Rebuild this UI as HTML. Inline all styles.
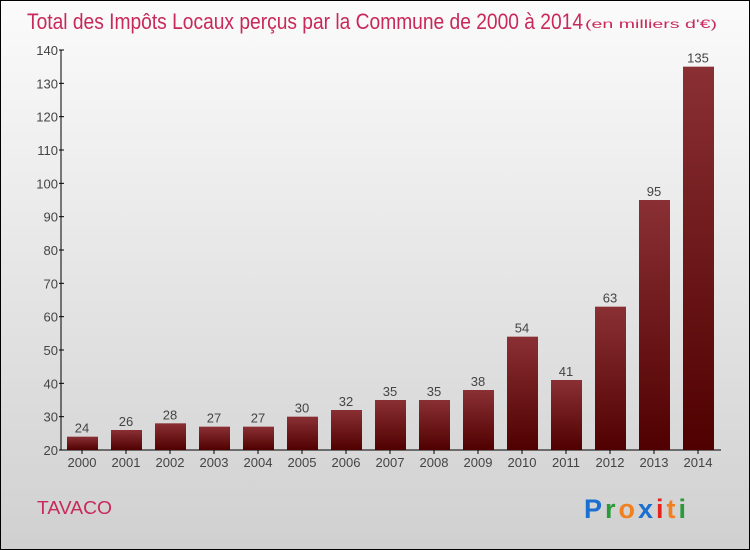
<!DOCTYPE html>
<html><head><meta charset="utf-8"><style>
body{margin:0}
#c{position:relative;width:748px;height:548px;border:1px solid #000;background:linear-gradient(#fbfbfb,#d0d0d0);font-family:"Liberation Sans",sans-serif;overflow:hidden}
</style></head><body>
<div id="c">
<svg width="748" height="548">
<defs><linearGradient id="g" x1="0" y1="0" x2="0" y2="1"><stop offset="0" stop-color="#8a3034"/><stop offset="1" stop-color="#500000"/></linearGradient></defs>
<text x="26" y="28" font-size="22" fill="#c8295b" textLength="556" lengthAdjust="spacingAndGlyphs">Total des Impôts Locaux perçus par la Commune de 2000 à 2014</text>
<text x="584" y="27" font-size="12" fill="#c8295b" textLength="132" lengthAdjust="spacingAndGlyphs">(en milliers d'€)</text>
<g id="plot"></g>
<text x="36" y="513" font-size="18" fill="#c8295b" textLength="75" lengthAdjust="spacingAndGlyphs">TAVACO</text>
<text x="583" y="517" font-size="27" font-weight="bold" textLength="102" lengthAdjust="spacing"><tspan fill="#1a6fd0">P</tspan><tspan fill="#2a9a3a">r</tspan><tspan fill="#f08020">o</tspan><tspan fill="#1a6fd0">x</tspan><tspan fill="#e8221a">i</tspan><tspan fill="#f08020">t</tspan><tspan fill="#2a9a3a">i</tspan></text>
</svg>
</div>
<script>
const years=["2000","2001","2002","2003","2004","2005","2006","2007","2008","2009","2010","2011","2012","2013","2014"];
const values=[24,26,28,27,27,30,32,35,35,38,54,41,63,95,135];
const ticks=[20,30,40,50,60,70,80,90,100,110,120,130,140];
const NS="http://www.w3.org/2000/svg";
const g=document.getElementById('plot');
const y=v=>449-(v-20)*400/120;
const x=i=>81+i*44;
function mk(t,a){const e=document.createElementNS(NS,t);for(const k in a)e.setAttribute(k,a[k]);g.appendChild(e);return e;}
let ax=mk('line',{x1:60,y1:y(140),x2:60,y2:y(20),stroke:'#000'});


let bx=mk('line',{x1:60,y1:y(20),x2:720,y2:y(20),stroke:'#000'});


ticks.forEach(t=>{
 mk('line',{x1:58,x2:63,y1:y(t),y2:y(t),stroke:'#000'});
 const l=mk('text',{x:57,y:y(t)+5,'font-size':13,fill:'#444','text-anchor':'end'});l.textContent=t;
 
 
});
years.forEach((yr,i)=>{
 const v=values[i];
 const r=mk('rect',{x:x(i)-15,y:y(v),width:31,height:y(20)-y(v),fill:'url(#g)'});
 
 
 mk('line',{x1:x(i),x2:x(i),y1:y(20),y2:y(20)+4,stroke:'#000'});
 const l=mk('text',{x:x(i),y:y(20)+17,'font-size':13,fill:'#444','text-anchor':'middle'});l.textContent=yr;
 
 
 const vl=mk('text',{x:x(i),y:y(v)-4,'font-size':13,fill:'#444','text-anchor':'middle'});vl.textContent=v;
 
 
});
</script>
</body></html>
